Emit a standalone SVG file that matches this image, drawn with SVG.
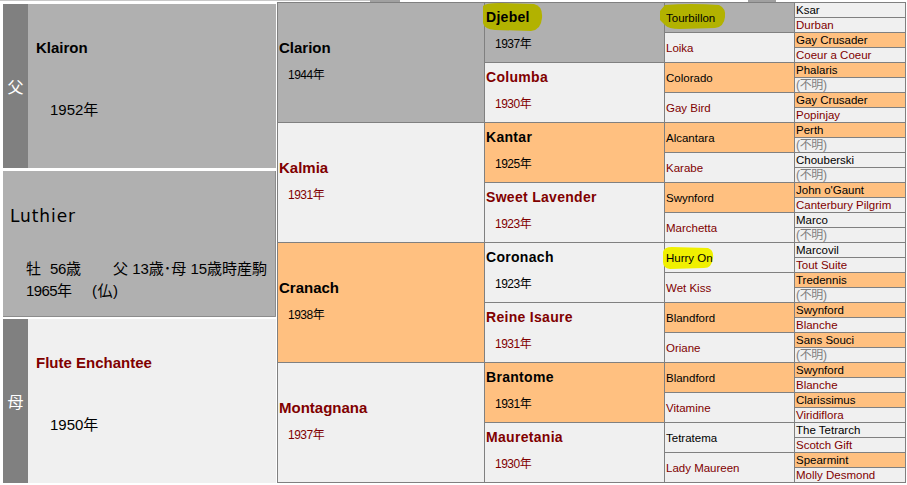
<svg xmlns="http://www.w3.org/2000/svg" width="907" height="485" viewBox="0 0 907 485">
<style>
text{font-family:"Liberation Sans","Noto Sans CJK JP",sans-serif}
.g{fill:#B0B0B0;stroke:#808080}
.l{fill:#F0F0F0;stroke:#808080}
.o{fill:#FFC080;stroke:#808080}
.m{fill:#000}
.f{fill:#800000}
.u{fill:#808080;font-size:12px}
.b15{font-size:15px;font-weight:bold}
.b14{font-size:14px;font-weight:bold;letter-spacing:0.3px}
.y15{font-size:15px}
.y12{font-size:12px;letter-spacing:-0.5px}
.t11{font-size:11.5px}
.side{fill:#808080}
.sidet{fill:#FFFFFF;font-size:16px;font-family:"Noto Sans CJK JP",sans-serif}
.hg{fill:#B2B200}
.hy{fill:#F0F000}
</style>
<rect x="0" y="0" width="907" height="485" fill="#FFFFFF"/>
<rect x="0" y="0" width="370" height="1" fill="#C8C8C8"/>
<rect x="370" y="0" width="30" height="2" fill="#A0A0A0"/>
<rect x="748" y="0" width="28" height="2" fill="#A0A0A0"/>

<!-- generation 1 -->
<g id="sire">
<rect x="3" y="4" width="25" height="164" class="side"/>
<rect x="28" y="4" width="248" height="164" fill="#B0B0B0"/>
<text x="15.5" y="93" text-anchor="middle" class="sidet">父</text>
<text x="36" y="53" class="b15 m">Klairon</text>
<text x="50" y="115" class="y15 m">1952年</text>
</g>
<g id="subject">
<rect x="3" y="171" width="273" height="146" fill="#B0B0B0"/>
<path d="M275.5,171 V316.5 H3" fill="none" stroke="#8C8C8C"/>
<text x="10" y="222" font-size="17" textLength="65" style="font-family:'DejaVu Sans',sans-serif" class="m">Luthier</text>
<g class="m" font-size="15">
<text x="26" y="274">牡</text>
<text x="50" y="274" textLength="31">56歳</text>
<text x="113" y="274" textLength="154">父 13歳･母 15歳時産駒</text>
<text x="26" y="296" textLength="46">1965年</text>
<text x="92" y="296" textLength="26">(仏)</text>
</g>
</g>
<g id="dam">
<rect x="3" y="319" width="25" height="164" class="side"/>
<rect x="28" y="319" width="248" height="164" fill="#F0F0F0"/>
<text x="15.5" y="408" text-anchor="middle" class="sidet">母</text>
<text x="36" y="368" class="b15 f">Flute Enchantee</text>
<text x="50" y="430" class="y15 m">1950年</text>
</g>

<!-- generation 2 -->
<g id="g2-1"><rect x="277.5" y="2.5" width="207" height="120" class="g"/><text x="279" y="53" class="b15 m">Clarion</text><text x="288" y="79" class="y12 m">1944年</text></g>
<g id="g2-2"><rect x="277.5" y="122.5" width="207" height="120" class="l"/><text x="279" y="173" class="b15 f">Kalmia</text><text x="288" y="199" class="y12 f">1931年</text></g>
<g id="g2-3"><rect x="277.5" y="242.5" width="207" height="120" class="o"/><text x="279" y="293" class="b15 m">Cranach</text><text x="288" y="319" class="y12 m">1938年</text></g>
<g id="g2-4"><rect x="277.5" y="362.5" width="207" height="120" class="l"/><text x="279" y="413" class="b15 f">Montagnana</text><text x="288" y="439" class="y12 f">1937年</text></g>

<!-- generation 3 -->
<g id="g3-1"><rect x="484.5" y="2.5" width="180" height="60" class="g"/><path class="hg" d="M483,6 Q485,3 500,3 L534,4 Q543,6 542,18 Q541,30 531,31 L495,30 Q484,29 483,23 Z"/><text x="486" y="22" class="b14 m">Djebel</text><text x="495" y="48" class="y12 m">1937年</text></g>
<g id="g3-2"><rect x="484.5" y="62.5" width="180" height="60" class="l"/><text x="486" y="82" class="b14 f">Columba</text><text x="495" y="108" class="y12 f">1930年</text></g>
<g id="g3-3"><rect x="484.5" y="122.5" width="180" height="60" class="o"/><text x="486" y="142" class="b14 m">Kantar</text><text x="495" y="168" class="y12 m">1925年</text></g>
<g id="g3-4"><rect x="484.5" y="182.5" width="180" height="60" class="l"/><text x="486" y="202" class="b14 f">Sweet Lavender</text><text x="495" y="228" class="y12 f">1923年</text></g>
<g id="g3-5"><rect x="484.5" y="242.5" width="180" height="60" class="l"/><text x="486" y="262" class="b14 m">Coronach</text><text x="495" y="288" class="y12 m">1923年</text></g>
<g id="g3-6"><rect x="484.5" y="302.5" width="180" height="60" class="l"/><text x="486" y="322" class="b14 f">Reine Isaure</text><text x="495" y="348" class="y12 f">1931年</text></g>
<g id="g3-7"><rect x="484.5" y="362.5" width="180" height="60" class="o"/><text x="486" y="382" class="b14 m">Brantome</text><text x="495" y="408" class="y12 m">1931年</text></g>
<g id="g3-8"><rect x="484.5" y="422.5" width="180" height="60" class="l"/><text x="486" y="442" class="b14 f">Mauretania</text><text x="495" y="468" class="y12 f">1930年</text></g>

<!-- generation 4 -->
<g id="g4-1"><rect x="664.5" y="2.5" width="130" height="30" class="g"/><path class="hg" d="M660,11 L665,5 Q690,3 719,5 Q726,8 725,17 Q724,27 715,28 L680,29 Q668,29 665,25 L660,20 Z"/><text x="666" y="22" class="t11 m">Tourbillon</text></g>
<g id="g4-2"><rect x="664.5" y="32.5" width="130" height="30" class="l"/><text x="666" y="52" class="t11 f">Loika</text></g>
<g id="g4-3"><rect x="664.5" y="62.5" width="130" height="30" class="o"/><text x="666" y="82" class="t11 m">Colorado</text></g>
<g id="g4-4"><rect x="664.5" y="92.5" width="130" height="30" class="l"/><text x="666" y="112" class="t11 f">Gay Bird</text></g>
<g id="g4-5"><rect x="664.5" y="122.5" width="130" height="30" class="o"/><text x="666" y="142" class="t11 m">Alcantara</text></g>
<g id="g4-6"><rect x="664.5" y="152.5" width="130" height="30" class="l"/><text x="666" y="172" class="t11 f">Karabe</text></g>
<g id="g4-7"><rect x="664.5" y="182.5" width="130" height="30" class="o"/><text x="666" y="202" class="t11 m">Swynford</text></g>
<g id="g4-8"><rect x="664.5" y="212.5" width="130" height="30" class="l"/><text x="666" y="232" class="t11 f">Marchetta</text></g>
<g id="g4-9"><rect x="664.5" y="242.5" width="130" height="30" class="l"/><path class="hy" d="M663,252 Q664,247 672,247 L708,248 Q714,250 713,258 Q712,268 704,268 L670,269 Q663,268 663,262 Z"/><text x="666" y="262" class="t11 m">Hurry On</text></g>
<g id="g4-10"><rect x="664.5" y="272.5" width="130" height="30" class="l"/><text x="666" y="292" class="t11 f">Wet Kiss</text></g>
<g id="g4-11"><rect x="664.5" y="302.5" width="130" height="30" class="o"/><text x="666" y="322" class="t11 m">Blandford</text></g>
<g id="g4-12"><rect x="664.5" y="332.5" width="130" height="30" class="l"/><text x="666" y="352" class="t11 f">Oriane</text></g>
<g id="g4-13"><rect x="664.5" y="362.5" width="130" height="30" class="o"/><text x="666" y="382" class="t11 m">Blandford</text></g>
<g id="g4-14"><rect x="664.5" y="392.5" width="130" height="30" class="l"/><text x="666" y="412" class="t11 f">Vitamine</text></g>
<g id="g4-15"><rect x="664.5" y="422.5" width="130" height="30" class="l"/><text x="666" y="442" class="t11 m">Tetratema</text></g>
<g id="g4-16"><rect x="664.5" y="452.5" width="130" height="30" class="l"/><text x="666" y="472" class="t11 f">Lady Maureen</text></g>

<!-- generation 5 -->
<g id="g5-1"><rect x="794.5" y="2.5" width="111" height="15" class="l"/><text x="796" y="14" class="t11 m">Ksar</text></g>
<g id="g5-2"><rect x="794.5" y="17.5" width="111" height="15" class="l"/><text x="796" y="29" class="t11 f">Durban</text></g>
<g id="g5-3"><rect x="794.5" y="32.5" width="111" height="15" class="o"/><text x="796" y="44" class="t11 m">Gay Crusader</text></g>
<g id="g5-4"><rect x="794.5" y="47.5" width="111" height="15" class="l"/><text x="796" y="59" class="t11 f">Coeur a Coeur</text></g>
<g id="g5-5"><rect x="794.5" y="62.5" width="111" height="15" class="o"/><text x="796" y="74" class="t11 m">Phalaris</text></g>
<g id="g5-6"><rect x="794.5" y="77.5" width="111" height="15" class="l"/><text x="796" y="89" class="u" textLength="31">(不明)</text></g>
<g id="g5-7"><rect x="794.5" y="92.5" width="111" height="15" class="o"/><text x="796" y="104" class="t11 m">Gay Crusader</text></g>
<g id="g5-8"><rect x="794.5" y="107.5" width="111" height="15" class="l"/><text x="796" y="119" class="t11 f">Popinjay</text></g>
<g id="g5-9"><rect x="794.5" y="122.5" width="111" height="15" class="o"/><text x="796" y="134" class="t11 m">Perth</text></g>
<g id="g5-10"><rect x="794.5" y="137.5" width="111" height="15" class="l"/><text x="796" y="149" class="u" textLength="31">(不明)</text></g>
<g id="g5-11"><rect x="794.5" y="152.5" width="111" height="15" class="l"/><text x="796" y="164" class="t11 m">Chouberski</text></g>
<g id="g5-12"><rect x="794.5" y="167.5" width="111" height="15" class="l"/><text x="796" y="179" class="u" textLength="31">(不明)</text></g>
<g id="g5-13"><rect x="794.5" y="182.5" width="111" height="15" class="o"/><text x="796" y="194" class="t11 m">John o'Gaunt</text></g>
<g id="g5-14"><rect x="794.5" y="197.5" width="111" height="15" class="l"/><text x="796" y="209" class="t11 f">Canterbury Pilgrim</text></g>
<g id="g5-15"><rect x="794.5" y="212.5" width="111" height="15" class="l"/><text x="796" y="224" class="t11 m">Marco</text></g>
<g id="g5-16"><rect x="794.5" y="227.5" width="111" height="15" class="l"/><text x="796" y="239" class="u" textLength="31">(不明)</text></g>
<g id="g5-17"><rect x="794.5" y="242.5" width="111" height="15" class="l"/><text x="796" y="254" class="t11 m">Marcovil</text></g>
<g id="g5-18"><rect x="794.5" y="257.5" width="111" height="15" class="l"/><text x="796" y="269" class="t11 f">Tout Suite</text></g>
<g id="g5-19"><rect x="794.5" y="272.5" width="111" height="15" class="o"/><text x="796" y="284" class="t11 m">Tredennis</text></g>
<g id="g5-20"><rect x="794.5" y="287.5" width="111" height="15" class="l"/><text x="796" y="299" class="u" textLength="31">(不明)</text></g>
<g id="g5-21"><rect x="794.5" y="302.5" width="111" height="15" class="o"/><text x="796" y="314" class="t11 m">Swynford</text></g>
<g id="g5-22"><rect x="794.5" y="317.5" width="111" height="15" class="l"/><text x="796" y="329" class="t11 f">Blanche</text></g>
<g id="g5-23"><rect x="794.5" y="332.5" width="111" height="15" class="o"/><text x="796" y="344" class="t11 m">Sans Souci</text></g>
<g id="g5-24"><rect x="794.5" y="347.5" width="111" height="15" class="l"/><text x="796" y="359" class="u" textLength="31">(不明)</text></g>
<g id="g5-25"><rect x="794.5" y="362.5" width="111" height="15" class="o"/><text x="796" y="374" class="t11 m">Swynford</text></g>
<g id="g5-26"><rect x="794.5" y="377.5" width="111" height="15" class="l"/><text x="796" y="389" class="t11 f">Blanche</text></g>
<g id="g5-27"><rect x="794.5" y="392.5" width="111" height="15" class="o"/><text x="796" y="404" class="t11 m">Clarissimus</text></g>
<g id="g5-28"><rect x="794.5" y="407.5" width="111" height="15" class="l"/><text x="796" y="419" class="t11 f">Viridiflora</text></g>
<g id="g5-29"><rect x="794.5" y="422.5" width="111" height="15" class="l"/><text x="796" y="434" class="t11 m">The Tetrarch</text></g>
<g id="g5-30"><rect x="794.5" y="437.5" width="111" height="15" class="l"/><text x="796" y="449" class="t11 f">Scotch Gift</text></g>
<g id="g5-31"><rect x="794.5" y="452.5" width="111" height="15" class="o"/><text x="796" y="464" class="t11 m">Spearmint</text></g>
<g id="g5-32"><rect x="794.5" y="467.5" width="111" height="15" class="l"/><text x="796" y="479" class="t11 f">Molly Desmond</text></g>

<g id="connectors"/>
</svg>
